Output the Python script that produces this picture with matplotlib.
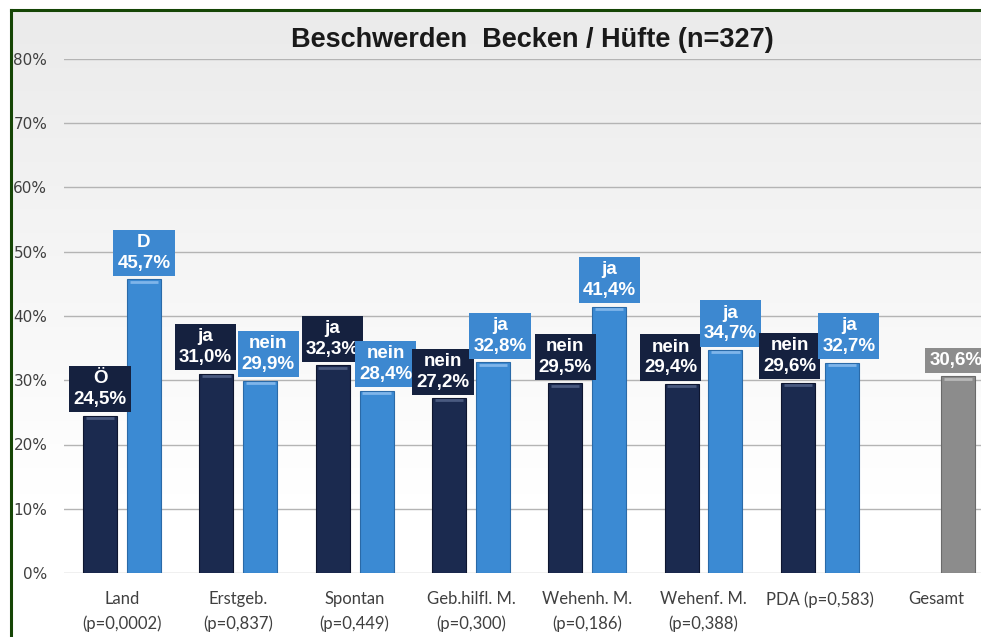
import matplotlib
matplotlib.use("Agg")
import matplotlib.pyplot as plt
import numpy as np
from matplotlib.lines import Line2D

# data
categories = ['Land\n(p=0,0002)', 'Erstgeb.\n(p=0,837)', 'Spontan\n(p=0,449)',
              'Geb.hilfl. M.\n(p=0,300)', 'Wehenh. M.\n(p=0,186)',
              'Wehenf. M.\n(p=0,388)', 'PDA (p=0,583)', 'Gesamt']
dark_names = ['Ö', 'ja', 'ja', 'nein', 'nein', 'nein', 'nein']
dark_values = [24.5, 31.0, 32.3, 27.2, 29.5, 29.4, 29.6]
light_names = ['D', 'nein', 'nein', 'ja', 'ja', 'ja', 'ja']
light_values = [45.7, 29.9, 28.4, 32.8, 41.4, 34.7, 32.7]
total_value = 30.6
yticks = [0, 10, 20, 30, 40, 50, 60, 70, 80]
title = 'Beschwerden  Becken / Hüfte (n=327)'

# label nudges (pixels) so the boxes do not overlap
dark_dx = [0, -11, 0, -6, 0, -11, -8]
light_dx = [0, 8, 9, 7, 0, 5, 7]

c_dark = '#1b2a4f'
c_dark_box = '#15213f'
c_light = '#3b8ad3'
c_light_box = '#3d88d0'
c_gray = '#8c8c8c'

W, H = 981, 637
fig = plt.figure(figsize=(W / 100, H / 100), dpi=100)
fig.patch.set_facecolor('white')

# background gradient + green frame
bg = fig.add_axes([0, 0, 1, 1], zorder=-5)
bg.set_xlim(0, 1)
bg.set_ylim(0, 1)
bg.axis('off')
grad = np.linspace(0, 1, 256).reshape(-1, 1)
grad = np.clip(grad * 1.3, 0, 1)
shade = 0.92 + 0.08 * grad
img = np.dstack([shade, shade, shade])
x0 = 10.5 / W
y1 = 1 - 10 / H
bg.imshow(img, extent=(x0, 1, 0, y1), aspect='auto', origin='upper', zorder=0)
bg.add_line(Line2D([x0, x0], [0, y1], color='#154505', lw=2.2, zorder=2))
bg.add_line(Line2D([x0, 1], [y1, y1], color='#154505', lw=2.2, zorder=2))

# main axes: category i centre at pixel 122 + 116.3*i, y=0 at pixel 573, 80% at 59
ax_left = 64 / W
ax_bottom = 1 - 573 / H
ax_top = 1 - 59 / H
ax = fig.add_axes([ax_left, ax_bottom, 1 - ax_left, ax_top - ax_bottom])
ax.set_facecolor('none')
step = 116.3
ax.set_xlim((64 - 122) / step, (981 - 122) / step)
ax.set_ylim(0, 80)

n = len(dark_values)
x = np.arange(n)
off = 22 / step
bw = 34 / step

ax.bar(x - off, dark_values, width=bw, color=c_dark, edgecolor='#0e1630', linewidth=0.8, zorder=3)
ax.bar(x + off, light_values, width=bw, color=c_light, edgecolor='#2a6aa8', linewidth=0.8, zorder=3)
ax.bar([n + off], [total_value], width=bw, color=c_gray, edgecolor='#6a6a6a', linewidth=0.8, zorder=3)

# little top highlight for the bevel look
ax.hlines(np.array(dark_values) - 0.35, x - off - bw * 0.42, x - off + bw * 0.42,
          color='#4a5a80', lw=2, zorder=4)
ax.hlines(np.array(light_values) - 0.35, x + off - bw * 0.42, x + off + bw * 0.42,
          color='#7fb5ea', lw=2, zorder=4)
ax.hlines([total_value - 0.35], n + off - bw * 0.42, n + off + bw * 0.42,
          color='#b8b8b8', lw=2, zorder=4)

ax.set_yticks(yticks)
ax.set_yticklabels(['%d%%' % v for v in yticks])
ax.set_xticks(np.arange(len(categories)))
ax.set_xticklabels(categories)
ax.yaxis.grid(True, color='#b4b4b4', lw=1)
ax.set_axisbelow(True)
for s in ax.spines.values():
    s.set_visible(False)
ax.tick_params(axis='y', length=0, pad=12, labelsize=11, labelcolor='#404040')
ax.tick_params(axis='x', length=0, pad=13, labelcolor='#404040')
for t in ax.get_yticklabels():
    t.set_fontfamily('DejaVu Sans')
for t in ax.get_xticklabels():
    t.set_fontfamily('Lato')
    t.set_fontsize(12)
    t.set_linespacing(1.6)


def fmt(v):
    return ('%.1f%%' % v).replace('.', ',')


def box_label(xc, val, txt, fc, dx):
    ax.annotate(txt, xy=(xc, val), xytext=(dx * 0.72, 5.5), textcoords='offset points',
                ha='center', va='bottom', color='white', fontsize=13.5,
                fontweight='bold', family='Liberation Sans', linespacing=1.3,
                bbox=dict(boxstyle='square,pad=0.22', fc=fc, ec='none'),
                zorder=6, annotation_clip=False)


for i in range(n):
    box_label(x[i] - off, dark_values[i], dark_names[i] + '\n' + fmt(dark_values[i]),
              c_dark_box, dark_dx[i])
    box_label(x[i] + off, light_values[i], light_names[i] + '\n' + fmt(light_values[i]),
              c_light_box, light_dx[i])
box_label(n + off, total_value, fmt(total_value), c_gray, -2)

fig.text(532 / W, 1 - 40 / H, title, ha='center', va='center', fontsize=19.5,
         fontweight='bold', family='Liberation Sans', color='#1a1a1a')

fig.savefig('out.png', dpi=100)
